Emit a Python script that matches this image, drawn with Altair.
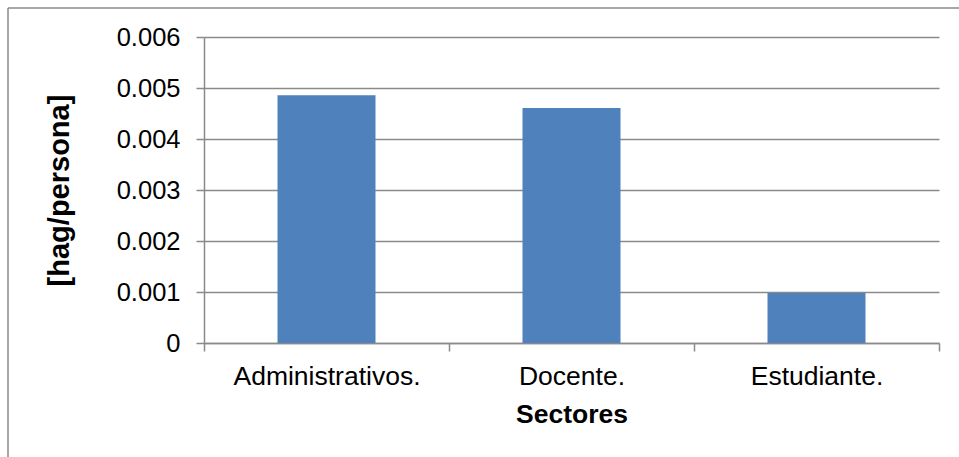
import altair as alt
import pandas as pd

sectores = ["Administrativos.", "Docente.", "Estudiante."]
valores = [0.00486, 0.00461, 0.00098]
y_ticks = [0, 0.001, 0.002, 0.003, 0.004, 0.005, 0.006]

df = pd.DataFrame({"Sector": sectores, "Valor": valores})

FONT = "Liberation Sans"
GREY = "#8a8a8a"

bars = alt.Chart(df).mark_bar(
    color="#4F81BD", width=alt.RelativeBandSize(0.4)
).encode(
    x=alt.X(
        "Sector:N",
        sort=sectores,
        scale=alt.Scale(paddingInner=0, paddingOuter=0),
        axis=alt.Axis(
            title="Sectores",
            titleFont=FONT,
            titleFontSize=26.5,
            titleFontWeight="bold",
            titleColor="black",
            titleY=79,
            titleBaseline="alphabetic",
            labelFont=FONT,
            labelFontSize=26.5,
            labelColor="black",
            labelAngle=0,
            labelPadding=12,
            labelLimit=400,
            tickBand="extent",
            tickSize=8,
            tickColor=GREY,
            tickWidth=1.5,
            domainColor=GREY,
            domainWidth=1.5,
            grid=False,
        ),
    ),
    y=alt.Y(
        "Valor:Q",
        scale=alt.Scale(domain=[0, 0.006], nice=False),
        axis=alt.Axis(
            title="[hag/persona]",
            titleFont=FONT,
            titleFontSize=29,
            titleFontWeight="bold",
            titleColor="black",
            titleAngle=-90,
            titleX=-136,
            titleY=153,
            titleAlign="center",
            titleBaseline="alphabetic",
            values=y_ticks,
            format="~g",
            labelFont=FONT,
            labelFontSize=25.5,
            labelColor="black",
            labelPadding=16,
            tickSize=8,
            tickColor=GREY,
            tickWidth=1.5,
            domainColor=GREY,
            domainWidth=1.5,
            grid=True,
            gridColor=GREY,
            gridWidth=1.5,
        ),
    ),
)

border_top = alt.Chart(alt.Data(values=[{"a": 1}])).mark_rule(
    color=GREY, strokeWidth=1.5
).encode(x=alt.value(-196), x2=alt.value(780), y=alt.value(-29))

border_left = alt.Chart(alt.Data(values=[{"a": 1}])).mark_rule(
    color=GREY, strokeWidth=1.5
).encode(x=alt.value(-196), y=alt.value(-29), y2=alt.value(430))

chart = alt.layer(bars, border_top, border_left).properties(
    width=735,
    height=306,
    autosize=alt.AutoSizeParams(type="none"),
    padding={"left": 204, "top": 37, "right": 20, "bottom": 114},
    background="white",
).configure_view(stroke=None)

chart.save("out.html", embed_options={"renderer": "svg", "actions": False})
